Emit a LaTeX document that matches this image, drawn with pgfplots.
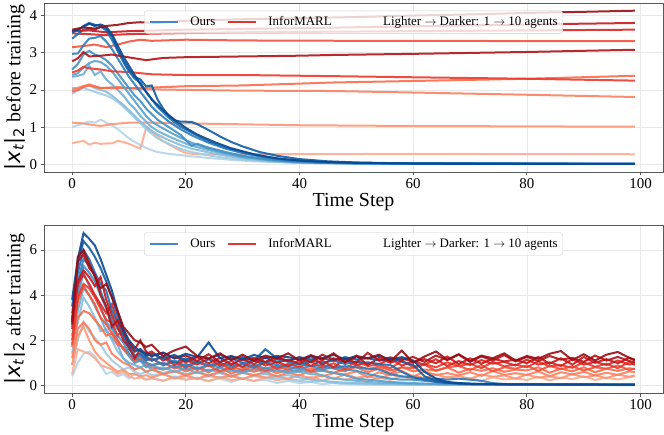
\documentclass[border=0pt]{standalone}
\usepackage{fontspec}
\setmainfont{Liberation Serif}
\newfontfamily\djv{DejaVu Sans}
\usepackage{pgfplots}
\usepackage{pgfplotstable}
\pgfplotsset{compat=1.18}

% Blues / Reds, light (1 agent) -> dark (10 agents)
\definecolor{b1}{RGB}{182,212,233}
\definecolor{b2}{RGB}{161,203,226}
\definecolor{b3}{RGB}{134,189,220}
\definecolor{b4}{RGB}{107,174,214}
\definecolor{b5}{RGB}{85,159,205}
\definecolor{b6}{RGB}{64,144,197}
\definecolor{b7}{RGB}{46,126,188}
\definecolor{b8}{RGB}{30,109,178}
\definecolor{b9}{RGB}{16,92,164}
\definecolor{b10}{RGB}{8,74,146}
\definecolor{r1}{RGB}{252,171,142}
\definecolor{r2}{RGB}{252,149,116}
\definecolor{r3}{RGB}{251,127,95}
\definecolor{r4}{RGB}{251,106,74}
\definecolor{r5}{RGB}{245,81,58}
\definecolor{r6}{RGB}{237,57,43}
\definecolor{r7}{RGB}{217,38,35}
\definecolor{r8}{RGB}{198,23,28}
\definecolor{r9}{RGB}{178,18,23}
\definecolor{r10}{RGB}{153,12,20}
\definecolor{legblue}{RGB}{66,135,200}
\definecolor{legred}{RGB}{222,55,50}

% after training, Ours
\pgfplotstableread{
t  b1   b2   b3   b4   b5   b6   b7   b8   b9   b10
0  0.40 0.90 1.40 1.80 2.20 2.60 2.90 3.20 3.50 3.80
1  1.00 2.00 2.80 3.30 3.90 4.20 4.60 5.00 5.40 5.60
2  1.40 2.80 3.90 4.30 5.00 5.30 5.60 6.00 6.40 6.75
3  1.50 2.40 3.50 4.00 4.40 5.00 5.30 5.60 6.10 6.50
4  1.30 2.10 3.00 3.50 4.00 4.60 4.90 5.00 5.70 6.20
5  0.90 1.80 2.40 3.00 3.50 4.00 4.20 4.50 5.20 5.60
6  0.50 1.40 2.50 2.40 2.80 3.40 3.50 4.20 4.60 4.90
7  0.60 1.10 2.00 2.10 2.50 2.60 2.90 3.30 3.90 4.20
8  0.40 0.90 1.50 1.80 2.00 2.20 2.50 2.80 3.10 3.30
9  0.50 0.70 1.20 1.20 1.60 1.90 2.20 2.20 2.40 2.50
10 0.30 0.80 0.90 1.00 1.30 1.40 1.80 1.60 1.80 2.00
11 0.50 0.60 0.70 0.90 1.00 1.20 1.20 1.30 1.50 1.70
12 0.40 0.50 0.80 0.80 1.10 1.10 1.30 1.40 1.60 1.50
13 0.25 0.60 0.60 0.90 0.80 1.00 1.10 1.20 1.30 1.40
14 0.35 0.45 0.70 0.70 0.90 0.90 1.20 1.10 1.40 1.30
16 0.20 0.50 0.55 0.80 0.70 1.00 0.90 1.30 1.20 1.45
18 0.40 0.35 0.65 0.60 0.85 0.80 1.10 1.00 1.35 1.20
20 0.25 0.45 0.50 0.75 0.70 0.95 0.85 1.20 1.10 1.40
22 0.35 0.30 0.60 0.55 0.80 0.75 1.05 1.00 1.30 1.25
24 0.20 0.40 0.45 0.70 0.65 0.90 0.90 1.15 1.20 1.90
26 0.30 0.35 0.55 0.60 0.75 0.80 1.00 1.05 1.35 1.20
28 0.15 0.45 0.40 0.65 0.70 0.95 0.85 1.20 1.15 1.30
30 0.30 0.30 0.55 0.55 0.60 0.80 0.95 1.00 1.25 1.15
32 0.20 0.40 0.45 0.70 0.75 0.90 0.85 1.10 1.10 1.35
34 0.25 0.35 0.50 0.60 0.65 0.75 1.00 1.00 1.60 1.20
36 0.10 0.30 0.40 0.65 0.70 0.85 0.90 1.15 1.20 1.30
38 0.20 0.25 0.45 0.55 0.60 0.80 0.85 1.05 1.10 1.25
40 0.10 0.20 0.35 0.60 0.70 0.75 0.95 0.95 1.25 1.15
42 0.15 0.15 0.25 0.50 0.60 0.85 0.85 1.10 1.15 1.30
44 0.05 0.20 0.20 0.45 0.65 0.70 0.90 1.00 1.20 1.20
46 0.10 0.10 0.15 0.30 0.55 0.80 0.80 1.10 1.10 1.35
48 0.05 0.08 0.12 0.25 0.45 0.70 0.85 0.95 1.25 1.15
50 0.04 0.06 0.10 0.20 0.30 0.65 0.80 1.05 1.15 1.30
52 0.03 0.05 0.08 0.15 0.25 0.50 0.75 1.00 1.20 1.20
54 0.03 0.04 0.06 0.12 0.20 0.40 0.70 0.95 1.10 1.30
56 0.02 0.04 0.05 0.10 0.15 0.30 0.50 0.90 1.20 1.15
58 0.02 0.03 0.05 0.08 0.12 0.25 0.40 0.60 1.05 1.25
60 0.02 0.03 0.04 0.06 0.10 0.25 0.35 0.35 0.90 1.10
62 0.02 0.03 0.04 0.05 0.08 0.20 0.30 0.25 0.40 0.60
64 0.02 0.03 0.04 0.05 0.06 0.15 0.30 0.15 0.20 0.30
66 0.02 0.03 0.03 0.04 0.05 0.12 0.25 0.10 0.12 0.15
68 0.02 0.02 0.03 0.04 0.05 0.10 0.30 0.08 0.08 0.10
70 0.02 0.02 0.03 0.04 0.04 0.08 0.25 0.06 0.06 0.07
72 0.02 0.02 0.03 0.03 0.04 0.06 0.20 0.05 0.05 0.06
74 0.02 0.02 0.02 0.03 0.04 0.05 0.10 0.05 0.05 0.05
76 0.02 0.02 0.02 0.03 0.03 0.04 0.06 0.04 0.04 0.05
80 0.02 0.02 0.02 0.02 0.03 0.03 0.05 0.04 0.04 0.04
90 0.01 0.02 0.02 0.02 0.02 0.03 0.04 0.03 0.03 0.04
99 0.01 0.01 0.02 0.02 0.02 0.03 0.03 0.03 0.03 0.03
}\bluetab

% after training, InforMARL
\pgfplotstableread{
t  r1   r2   r3   r4   r5   r6   r7   r8   r9   r10
0  0.50 0.90 1.20 1.70 1.80 2.00 2.50 3.00 2.70 2.80
1  1.60 2.20 2.50 3.00 3.70 3.90 4.50 4.60 5.50 5.70
2  1.50 2.60 2.80 3.30 4.40 4.50 4.90 5.10 5.80 6.00
3  1.40 2.00 2.50 3.20 4.00 4.30 4.50 4.80 5.20 5.40
4  1.20 1.50 2.00 2.90 3.60 3.90 4.00 4.40 4.90 4.80
5  0.90 1.20 1.80 2.60 3.00 3.40 3.60 4.80 4.00 4.30
6  0.80 1.00 1.90 2.20 2.70 2.90 3.20 3.80 3.50 4.50
7  0.70 0.80 1.40 2.30 2.30 2.80 3.60 3.10 2.60 3.90
8  0.50 0.60 1.20 1.80 2.00 2.20 2.80 2.60 2.90 3.30
9  0.60 0.70 1.00 1.70 1.60 2.50 2.30 2.00 2.40 2.60
10 0.40 0.50 0.90 1.30 1.40 1.80 1.90 1.70 1.90 2.30
11 0.30 0.50 0.70 1.00 1.10 1.30 1.50 1.20 1.60 2.00
12 0.35 0.40 0.80 1.10 1.20 1.40 1.60 1.60 2.00 1.90
13 0.25 0.45 0.60 0.90 1.00 1.10 1.30 1.40 1.50 1.70
14 0.30 0.35 0.70 0.80 0.90 1.20 1.10 1.50 1.30 1.80
16 0.20 0.50 0.50 0.70 1.00 0.90 1.25 1.10 1.45 1.30
18 0.35 0.30 0.62 0.85 0.75 1.05 0.90 1.30 1.20 1.55
20 0.25 0.42 0.45 0.62 0.92 0.78 1.12 1.02 1.32 1.72
22 0.32 0.28 0.58 0.78 0.68 1.02 0.92 1.25 1.08 1.30
24 0.18 0.48 0.42 0.58 0.88 0.85 1.18 0.98 1.38 1.18
26 0.36 0.33 0.62 0.82 0.62 0.95 0.88 1.22 1.02 1.42
28 0.24 0.42 0.38 0.52 0.82 0.72 1.08 0.92 1.28 1.12
30 0.30 0.28 0.57 0.72 0.68 0.98 0.82 1.18 1.12 1.36
32 0.19 0.46 0.44 0.60 0.86 0.78 1.12 0.94 1.22 1.08
34 0.34 0.34 0.60 0.76 0.64 1.02 0.88 1.24 1.04 1.32
36 0.23 0.40 0.40 0.54 0.82 0.74 1.04 1.00 1.26 1.18
38 0.31 0.29 0.56 0.70 0.70 0.96 0.86 1.14 1.08 1.42
40 0.20 0.46 0.44 0.62 0.86 0.80 1.12 0.96 1.24 1.10
42 0.38 0.31 0.66 0.74 0.60 1.06 0.86 1.30 1.02 1.34
44 0.22 0.44 0.40 0.66 0.84 0.78 1.10 0.92 1.36 1.14
46 0.34 0.28 0.54 0.56 0.74 0.98 0.80 1.20 1.14 1.42
48 0.26 0.50 0.48 0.70 0.62 0.74 1.16 1.04 1.20 1.02
50 0.30 0.34 0.62 0.80 0.90 1.06 0.90 1.32 1.00 1.28
52 0.18 0.40 0.36 0.58 0.70 0.86 1.02 0.90 1.44 1.20
54 0.34 0.30 0.58 0.76 0.84 0.92 0.94 1.22 1.10 1.36
56 0.24 0.48 0.44 0.52 0.66 0.76 1.18 1.00 1.24 1.06
58 0.40 0.36 0.64 0.80 0.80 1.08 0.88 1.20 1.12 1.54
60 0.26 0.44 0.38 0.62 0.76 0.82 1.06 1.04 1.26 1.00
62 0.30 0.32 0.62 0.70 0.92 0.94 0.92 1.16 1.04 1.28
64 0.22 0.48 0.46 0.66 0.64 0.80 1.16 0.98 1.32 1.50
66 0.38 0.34 0.54 0.80 0.80 1.02 0.86 1.28 1.12 1.14
68 0.28 0.42 0.44 0.56 0.86 0.86 1.08 0.94 1.36 1.38
70 0.32 0.28 0.58 0.74 0.68 0.96 0.90 1.20 1.04 1.08
72 0.20 0.48 0.42 0.64 0.90 0.76 1.12 0.96 1.28 1.32
74 0.36 0.38 0.64 0.76 0.62 1.04 0.96 1.18 1.10 1.20
76 0.26 0.44 0.46 0.60 0.80 0.84 1.04 1.06 1.34 1.42
78 0.30 0.30 0.54 0.70 0.74 0.92 0.88 1.14 1.06 1.10
80 0.24 0.48 0.46 0.66 0.88 0.80 1.14 0.98 1.26 1.30
82 0.38 0.34 0.62 0.80 0.64 1.06 0.92 1.26 1.08 1.18
84 0.22 0.40 0.40 0.56 0.86 0.84 1.02 0.96 1.30 1.40
86 0.34 0.32 0.58 0.74 0.72 0.90 0.86 1.20 1.14 1.52
88 0.28 0.50 0.48 0.62 0.84 0.78 1.16 0.92 1.22 1.12
90 0.40 0.36 0.60 0.80 0.66 1.02 0.92 1.26 1.04 1.38
92 0.24 0.44 0.44 0.58 0.80 0.82 1.04 1.00 1.32 1.10
94 0.34 0.32 0.56 0.74 0.74 0.96 0.90 1.16 1.10 1.36
96 0.26 0.48 0.46 0.64 0.88 0.76 1.10 0.98 1.26 1.48
98 0.36 0.38 0.62 0.76 0.68 1.04 0.92 1.22 1.08 1.22
99 0.42 0.44 0.58 0.72 0.74 0.90 0.98 1.10 1.02 1.14
}\redtab

\pgfplotsset{
  panel/.style={
    scale only axis, width=619bp,
    xmin=-4.95, xmax=103.95,
    xtick={0,20,40,60,80,100},
    grid=major, grid style={color=black!9, line width=0.7bp},
    axis line style={draw=black!65, line width=0.8bp},
    tick align=outside, tick pos=left,
    major tick length=3.5bp,
    tick style={black!65, line width=0.8bp},
    ticklabel style={font=\fontsize{15}{18}\selectfont},
    /pgf/number format/assume math mode=true,
    xlabel={Time Step},
    every axis x label/.style={at={(axis description cs:0.5,-0.205)}, anchor=base,
      font=\fontsize{20}{24}\selectfont},
    every axis y label/.style={at={(axis description cs:-0.047,0.5)}, rotate=90,
      anchor=center, font=\fontsize{20}{24}\selectfont},
    legend columns=3,
    legend image code/.code={\draw[##1] (0bp,0bp) -- (28bp,0bp);},
    legend style={at={(axis description cs:0.5,0.955)}, anchor=north,
      draw=black!20, rounded corners=2.5bp, fill=white, fill opacity=0.8,
      text opacity=1, draw opacity=1,
      font=\fontsize{13}{16}\selectfont,
      inner xsep=5bp, inner ysep=5bp,
      nodes={inner sep=0pt, text height=9.5bp, text depth=3bp},
      /tikz/every odd column/.append style={column sep=11bp},
      /tikz/every even column/.append style={column sep=12bp}},
  },
  ln/.style={line width=2bp, opacity=0.9, forget plot},
}

\newcommand{\xnorm}{{\djv\fontsize{21}{24}\selectfont|\textit{x}\textsubscript{\textit{t}}|\textsubscript{2}}}

\begin{document}
\begin{tikzpicture}
\path[use as bounding box] (0,0) rectangle (664bp,-435bp);

% ---------------- before training ----------------
\begin{axis}[panel, at={(44bp,-3bp)}, anchor=north west, height=169bp,
    ymin=-0.207, ymax=4.337, ytick={0,1,2,3,4},
    ylabel={\xnorm\ before training}]
\addlegendimage{legblue, line width=2bp}
\addlegendentry{Ours}
\addlegendimage{legred, line width=2bp}
\addlegendentry{InforMARL}
\addlegendimage{draw opacity=0}
\addlegendentry{Lighter $\rightarrow$ Darker: 1 $\rightarrow$ 10 agents}

\addplot[ln, b1] coordinates {(0,1.0) (1,1.05) (2,1.1) (3,1.15) (4,1.12) (5,1.2) (6,1.12) (7,1.05) (8,0.95) (9,0.82) (10,0.7) (11,0.6) (12,0.52) (13,0.44) (14,0.38) (15,0.33) (17,0.28) (20,0.23) (24,0.17) (28,0.12) (32,0.08) (38,0.05) (45,0.03) (60,0.01) (99,0.01)};
\addplot[ln, r1] coordinates {(0,0.57) (1,0.6) (2,0.63) (3,0.53) (4,0.58) (5,0.55) (6,0.56) (7,0.56) (8,0.63) (9,0.6) (10,0.55) (12,0.42) (13,0.97) (14,0.88) (15,0.75) (16,0.62) (18,0.45) (20,0.3) (22,0.27) (30,0.27) (60,0.28) (99,0.27)};
\addplot[ln, b2] coordinates {(0,1.9) (1,1.98) (2,2.05) (3,2.0) (4,1.95) (5,1.9) (6,1.85) (7,1.78) (8,1.68) (9,1.55) (10,1.4) (11,1.25) (12,1.1) (13,0.95) (14,0.82) (15,0.7) (17,0.55) (19,0.42) (21,0.33) (24,0.24) (27,0.17) (30,0.12) (35,0.07) (40,0.04) (50,0.02) (99,0.01)};
\addplot[ln, r2] coordinates {(0,1.12) (2,1.1) (4,1.05) (5,1.03) (7,1.08) (10,1.12) (14,1.12) (20,1.1) (40,1.05) (60,1.03) (99,1.01)};
\addplot[ln, b3] coordinates {(0,2.05) (1,2.05) (2,2.1) (3,2.12) (4,2.05) (5,2.0) (6,1.95) (7,1.85) (8,1.72) (9,1.6) (10,1.45) (11,1.3) (12,1.15) (13,1.02) (14,0.9) (15,0.8) (17,0.65) (19,0.52) (21,0.42) (24,0.32) (27,0.23) (30,0.16) (35,0.08) (40,0.04) (50,0.02) (99,0.01)};
\addplot[ln, r3] coordinates {(0,2.0) (2,2.1) (3,2.15) (5,2.05) (8,2.08) (12,2.02) (20,2.0) (30,1.98) (46,1.97) (60,1.93) (80,1.87) (99,1.81)};
\addplot[ln, b4] coordinates {(0,2.35) (1,2.38) (2,2.42) (3,2.65) (4,2.4) (5,2.5) (6,2.28) (7,2.15) (8,2.0) (9,1.85) (10,1.65) (11,1.5) (12,1.3) (13,1.15) (14,1.0) (15,0.9) (17,0.75) (19,0.62) (21,0.5) (24,0.38) (27,0.28) (30,0.19) (35,0.1) (40,0.05) (50,0.02) (99,0.01)};
\addplot[ln, r4] coordinates {(0,1.95) (1,2.0) (2,2.08) (3,2.12) (5,2.05) (8,2.05) (12,2.05) (20,2.1) (30,2.12) (46,2.2) (60,2.24) (80,2.3) (99,2.38)};
\addplot[ln, b5] coordinates {(0,2.4) (1,2.45) (2,2.6) (3,2.72) (4,2.78) (5,2.75) (6,2.65) (7,2.5) (8,2.3) (9,2.1) (10,1.9) (11,1.7) (12,1.5) (13,1.3) (14,1.15) (15,1.05) (17,0.88) (19,0.72) (21,0.58) (24,0.42) (27,0.3) (30,0.2) (35,0.11) (40,0.06) (50,0.02) (99,0.01)};
\addplot[ln, r5] coordinates {(0,3.15) (2,3.18) (4,3.22) (6,3.15) (8,3.22) (10,3.3) (12,3.35) (14,3.32) (20,3.35) (30,3.33) (50,3.32) (99,3.31)};
\addplot[ln, b6] coordinates {(0,2.55) (1,2.7) (2,2.95) (3,3.05) (4,2.95) (5,2.9) (6,2.8) (7,2.65) (8,2.45) (9,2.25) (10,2.05) (11,1.85) (12,1.7) (13,1.5) (14,1.35) (15,1.2) (17,1.0) (19,0.8) (21,0.5) (22,0.55) (24,0.45) (27,0.33) (30,0.23) (34,0.14) (38,0.08) (44,0.04) (99,0.01)};
\addplot[ln, r6] coordinates {(0,2.47) (1,2.52) (2,2.62) (3,2.58) (5,2.55) (7,2.5) (10,2.48) (14,2.42) (20,2.4) (30,2.4) (46,2.37) (60,2.34) (80,2.3) (99,2.25)};
\addplot[ln, b7] coordinates {(0,2.97) (1,2.98) (2,3.2) (3,3.38) (4,3.4) (5,3.45) (6,3.3) (7,3.1) (8,2.85) (9,2.6) (10,2.35) (11,2.15) (12,1.95) (13,1.75) (14,1.55) (15,1.4) (17,1.15) (19,0.95) (21,0.78) (24,0.58) (27,0.42) (30,0.3) (34,0.18) (38,0.1) (44,0.05) (50,0.03) (99,0.01)};
\addplot[ln, r7] coordinates {(0,3.52) (3,3.5) (6,3.47) (10,3.5) (20,3.53) (30,3.55) (60,3.58) (99,3.62)};
\addplot[ln, b8] coordinates {(0,3.38) (1,3.5) (2,3.62) (3,3.65) (4,3.62) (5,3.7) (6,3.6) (7,3.35) (8,3.05) (9,2.75) (10,2.5) (11,2.3) (12,2.2) (13,1.95) (14,1.75) (15,1.55) (17,1.25) (19,1.02) (21,0.85) (24,0.62) (27,0.45) (30,0.33) (34,0.2) (38,0.12) (44,0.06) (50,0.03) (99,0.01)};
\addplot[ln, r8] coordinates {(0,3.58) (3,3.6) (6,3.55) (10,3.58) (20,3.62) (40,3.66) (60,3.71) (80,3.76) (99,3.8)};
\addplot[ln, b9] coordinates {(0,3.55) (1,3.6) (2,3.72) (3,3.8) (4,3.75) (5,3.72) (6,3.65) (7,3.45) (8,3.1) (9,2.8) (10,2.55) (11,2.35) (12,2.28) (13,2.1) (14,2.12) (15,1.75) (16,1.5) (17,1.3) (18,1.18) (19,1.15) (21,1.14) (22,1.08) (24,0.92) (26,0.75) (28,0.6) (30,0.48) (33,0.33) (36,0.23) (40,0.14) (45,0.08) (50,0.05) (60,0.02) (99,0.01)};
\addplot[ln, r9] coordinates {(0,2.77) (1,2.85) (2,3.02) (3,2.9) (5,2.92) (7,2.95) (9,2.9) (11,2.85) (13,2.8) (16,2.86) (20,2.88) (30,2.9) (40,2.92) (46,2.94) (60,2.97) (80,3.02) (99,3.08)};
\addplot[ln, b10] coordinates {(0,3.58) (1,3.62) (2,3.7) (3,3.78) (4,3.72) (5,3.76) (6,3.7) (7,3.5) (8,3.2) (9,2.9) (10,2.65) (11,2.4) (12,2.15) (13,1.95) (14,1.75) (15,1.6) (16,1.45) (18,1.2) (20,0.98) (22,0.8) (25,0.6) (28,0.43) (32,0.27) (36,0.16) (40,0.1) (45,0.06) (50,0.04) (60,0.02) (70,0.01) (99,0.01)};
\addplot[ln, r10] coordinates {(0,3.62) (2,3.68) (4,3.65) (6,3.72) (8,3.75) (10,3.8) (12,3.82) (15,3.8) (20,3.86) (30,3.9) (40,3.93) (50,3.96) (60,4.0) (70,4.03) (80,4.07) (90,4.1) (99,4.13)};
\end{axis}

% ---------------- after training ----------------
\begin{axis}[panel, at={(44bp,-225bp)}, anchor=north west, height=168bp,
    ymin=-0.34, ymax=7.11, ytick={0,2,4,6},
    ylabel={\xnorm\ after training}]
\addlegendimage{legblue, line width=2bp}
\addlegendentry{Ours}
\addlegendimage{legred, line width=2bp}
\addlegendentry{InforMARL}
\addlegendimage{draw opacity=0}
\addlegendentry{Lighter $\rightarrow$ Darker: 1 $\rightarrow$ 10 agents}

\foreach \k in {1,...,10}{
  \edef\tmp{\noexpand\addplot[ln, b\k] table[x=t, y=b\k] {\noexpand\bluetab};
            \noexpand\addplot[ln, r\k] table[x=t, y=r\k] {\noexpand\redtab};}
  \tmp
}
\end{axis}
\end{tikzpicture}
\end{document}
